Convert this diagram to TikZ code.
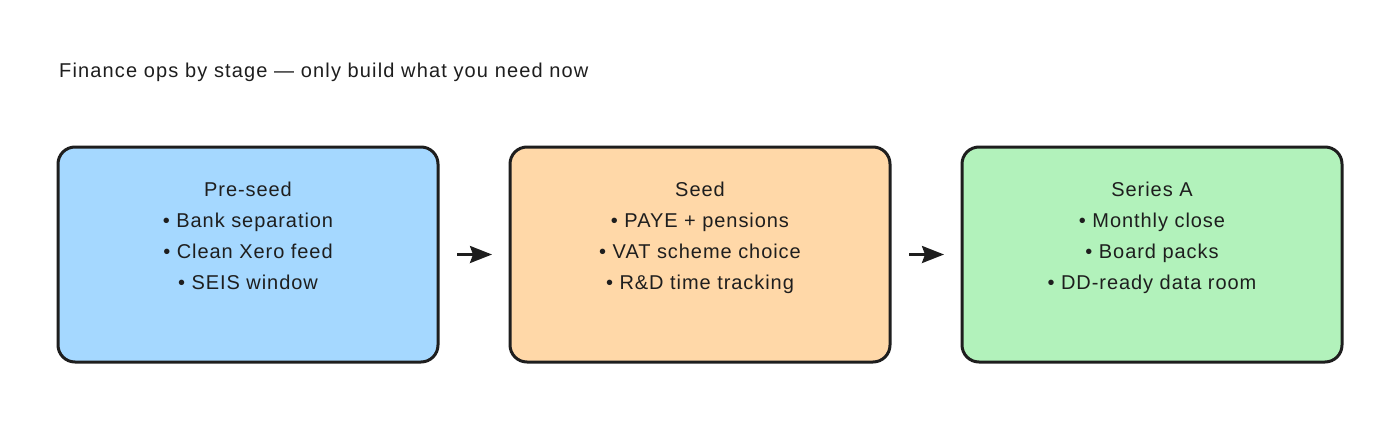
\documentclass[tikz,border=0pt]{standalone}
\usepackage{fontspec}
\setmainfont{Liberation Sans}
\newfontfamily\dfont[LetterSpace=4.7]{Liberation Sans}
\newfontfamily\tfont[LetterSpace=5.7]{Liberation Sans}
\usetikzlibrary{arrows.meta}
\definecolor{cblue}{HTML}{A5D8FF}
\definecolor{corange}{HTML}{FFD8A8}
\definecolor{cgreen}{HTML}{B2F2BB}
\definecolor{ink}{HTML}{1E1E1E}
\begin{document}
\begin{tikzpicture}[x=1pt,y=-1pt,
  stagebox/.style={draw=ink, line width=3pt, rounded corners=17pt, minimum width=380pt, minimum height=215pt, anchor=north west, inner sep=0pt, outer sep=0pt},
  stagetext/.style={font=\dfont\fontsize{20pt}{31pt}\selectfont, text=ink, align=center, anchor=north, inner sep=0pt},
  arr/.style={draw=ink, line width=2.6pt, -{Stealth[length=22pt,width=17pt,inset=3pt]}, shorten <=19pt, shorten >=18pt}]
\useasboundingbox[fill=white] (0,0) rectangle (1400,423);
\node[anchor=base west, font=\tfont\fontsize{20pt}{24pt}\selectfont, text=ink, inner sep=0pt] (title) at (59,77.5) {Finance ops by stage — only build what you need now};
\node[stagebox, fill=cblue] (b1) at (58,147) {};
\node[stagebox, fill=corange] (b2) at (510,147) {};
\node[stagebox, fill=cgreen] (b3) at (962,147) {};
\node[stagetext] (t1) at (b1.north |- 0,175) {\strut Pre-seed\\• Bank separation\\• Clean Xero feed\\• SEIS window};
\node[stagetext] (t2) at (b2.north |- 0,175) {\strut Seed\\• PAYE + pensions\\• VAT scheme choice\\• R\&D time tracking};
\node[stagetext] (t3) at (b3.north |- 0,175) {\strut Series A\\• Monthly close\\• Board packs\\• DD-ready data room};
\draw[arr] (b1.east) -- (b2.west);
\draw[arr] (b2.east) -- (b3.west);
\end{tikzpicture}
\end{document}
